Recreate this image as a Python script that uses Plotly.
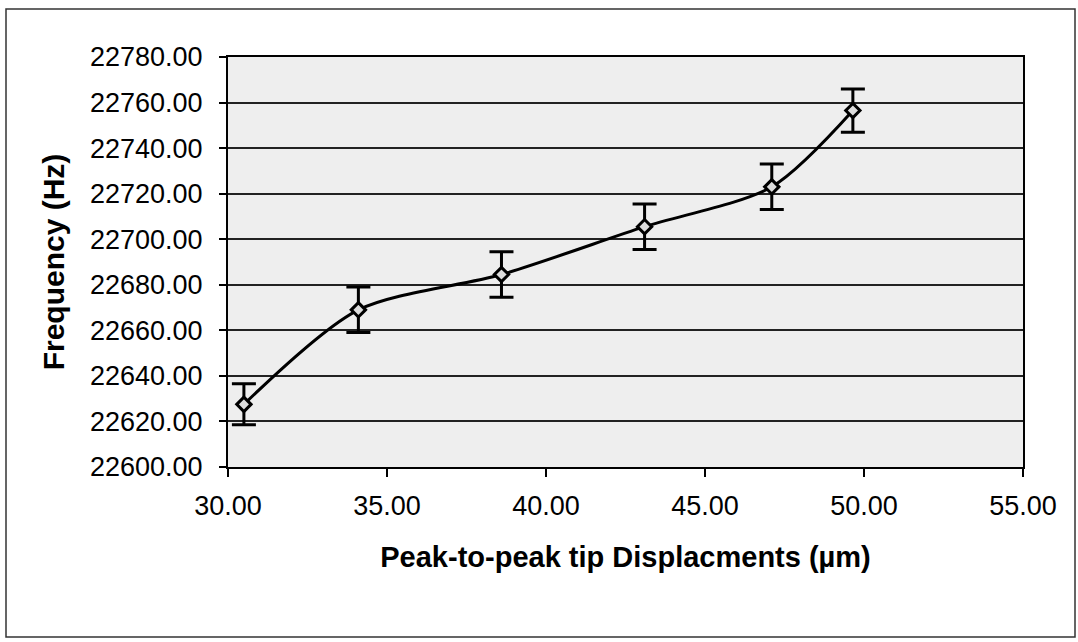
import plotly.graph_objects as go

# Data
displacement_um = [30.5, 34.1, 38.6, 43.1, 47.1, 49.65]
frequency_hz = [22627.5, 22669.0, 22684.5, 22705.5, 22723.0, 22756.5]
freq_error_hz = [9.0, 10.0, 10.0, 10.0, 10.0, 9.5]

x_ticks = [30, 35, 40, 45, 50, 55]
y_ticks = [22600, 22620, 22640, 22660, 22680, 22700, 22720, 22740, 22760, 22780]

W, H = 1078, 642
L, R, T, B = 228, 55, 57, 175  # margins in px

fig = go.Figure()
fig.add_trace(go.Scatter(
    x=displacement_um, y=frequency_hz,
    mode="lines+markers",
    line=dict(color="black", width=3, shape="spline", smoothing=0.8),
    marker=dict(symbol="diamond", size=11, color="#dddddd",
                line=dict(color="black", width=3)),
    error_y=dict(type="data", array=freq_error_hz, visible=True,
                 color="black", thickness=3, width=12),
    showlegend=False,
))

font_family = "Liberation Sans, Arial, sans-serif"

fig.update_layout(
    width=W, height=H,
    margin=dict(l=L, r=R, t=T, b=B, pad=0),
    paper_bgcolor="white",
    plot_bgcolor="#eeeeee",
    font=dict(family=font_family, color="black"),
    xaxis=dict(
        range=[30, 55], tickvals=x_ticks,
        ticktext=[f"{v:.2f}" for v in x_ticks],
        tickfont=dict(size=27, family=font_family),
        ticks="outside", ticklen=8, tickwidth=1.5, tickcolor="black",
        ticklabelstandoff=6,
        showline=True, linecolor="black", linewidth=2, mirror=True,
        showgrid=False, zeroline=False,
        title=dict(text="<b>Peak-to-peak tip Displacments (µm)</b>",
                   font=dict(size=29, family=font_family), standoff=26),
    ),
    yaxis=dict(
        range=[22600, 22780], tickvals=y_ticks,
        ticktext=[f"{v:.2f}" for v in y_ticks],
        tickfont=dict(size=27, family=font_family),
        ticks="outside", ticklen=7, tickwidth=1.5, tickcolor="black",
        ticklabelstandoff=11,
        showline=True, linecolor="black", linewidth=2, mirror=True,
        showgrid=True, gridcolor="#222222", gridwidth=1.5, zeroline=False,
        title=dict(text="<b>Frequency (Hz)</b>",
                   font=dict(size=30, family=font_family), standoff=16),
    ),
)

# Outer chart frame (in pixel terms converted to paper coordinates)
pw, ph = W - L - R, H - T - B
def px_x(p):
    return (p - L) / pw
def px_y(p):
    return (H - B - p) / ph

fig.add_shape(type="rect", xref="paper", yref="paper",
              x0=px_x(6), x1=px_x(1075), y0=px_y(637), y1=px_y(9),
              line=dict(color="#333333", width=1.5), fillcolor="rgba(0,0,0,0)",
              layer="below")

fig.write_html("out.html")
